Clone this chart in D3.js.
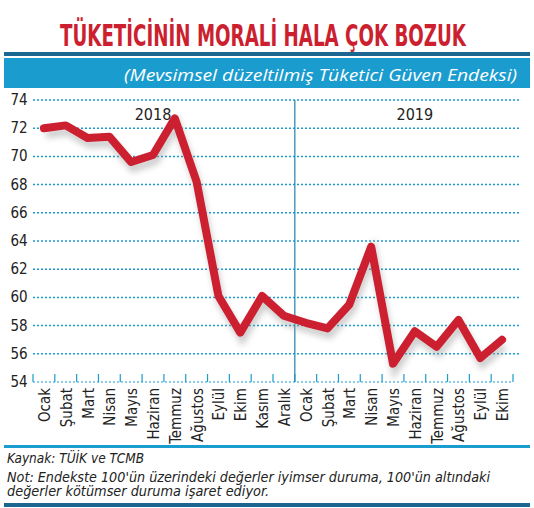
<!DOCTYPE html>
<meta charset="utf-8">
<style>
body { margin: 0; background: white; }
text { font-family: "Liberation Sans Narrow", "DejaVu Sans Condensed", sans-serif; }
</style>
<body>
<script src="https://cdn.jsdelivr.net/npm/d3@7"></script>
<script>
var months = ['Ocak', 'Şubat', 'Mart', 'Nisan', 'Mayıs', 'Haziran', 'Temmuz', 'Ağustos', 'Eylül', 'Ekim', 'Kasım', 'Aralık',
    'Ocak', 'Şubat', 'Mart', 'Nisan', 'Mayıs', 'Haziran', 'Temmuz', 'Ağustos', 'Eylül', 'Ekim']
var values = [72.0, 72.2, 71.3, 71.4, 69.6, 70.1, 72.7, 68.2, 60.1, 57.5, 60.1, 58.7,
    58.2, 57.8, 59.5, 63.6, 55.3, 57.6, 56.5, 58.4, 55.7, 57.0]
var yTicks = [54, 56, 58, 60, 62, 64, 66, 68, 70, 72, 74]
var years = [{ label: '2018', at: 5 }, { label: '2019', at: 17 }]

var width = 534, height = 508
var teal = '#1a9ccf', dark = '#1b6791', red = '#cc1f2f'

var svg = d3.select('body').append('svg').attr('width', width).attr('height', height)

var idx = months.map(function (d, i) { return i })
var x = d3.scaleBand().domain(idx).range([33, 513])
var y = d3.scaleLinear().domain([54, 74]).range([382, 100])

// header
svg.append('text').attr('x', 60).attr('y', 46)
    .attr('fill', red).attr('font-size', 30).attr('font-weight', 'bold')
    .attr('textLength', 406).attr('lengthAdjust', 'spacingAndGlyphs')
    .text('TÜKETİCİNİN MORALİ HALA ÇOK BOZUK')
svg.append('rect').attr('x', 4).attr('y', 52).attr('width', 526).attr('height', 4).attr('fill', dark)
svg.append('rect').attr('x', 4).attr('y', 58).attr('width', 526).attr('height', 30).attr('fill', teal)
svg.append('text').attr('x', 124).attr('y', 81)
    .attr('fill', 'white').attr('font-size', 17).attr('font-style', 'italic')
    .attr('textLength', 393).attr('lengthAdjust', 'spacingAndGlyphs')
    .style('font-family', '"Open Sans", sans-serif')
    .text('(Mevsimsel düzeltilmiş Tüketici Güven Endeksi)')

// grid
svg.selectAll('.grid').data(yTicks.slice(1)).enter().append('line')
    .attr('x1', 33).attr('x2', 520)
    .attr('y1', function (d) { return y(d) }).attr('y2', function (d) { return y(d) })
    .attr('stroke', teal).attr('stroke-width', 1.5).attr('stroke-dasharray', '2,2')
svg.append('line').attr('x1', 33).attr('x2', 513).attr('y1', 382).attr('y2', 382)
    .attr('stroke', teal).attr('stroke-width', 1).attr('stroke-dasharray', '2,2')
svg.selectAll('.tick').data(d3.range(months.length + 1)).enter().append('line')
    .attr('x1', function (d) { return 33 + d * x.step() }).attr('x2', function (d) { return 33 + d * x.step() })
    .attr('y1', 374).attr('y2', 382).attr('stroke', teal).attr('stroke-width', 1.2)
svg.append('line').attr('x1', x(12)).attr('x2', x(12)).attr('y1', 100).attr('y2', 382)
    .attr('stroke', '#2a8fb3').attr('stroke-width', 1.3)

// y labels
svg.selectAll('.yl').data(yTicks).enter().append('text')
    .attr('x', 19).attr('y', function (d) { return y(d) + 5 }).attr('text-anchor', 'middle')
    .attr('font-size', 15).attr('fill', '#222').text(function (d) { return d })

// x labels
svg.selectAll('.xl').data(months).enter().append('text')
    .attr('transform', function (d, i) { return 'translate(' + (x(i) + x.bandwidth() / 2 + 6) + ',388) rotate(-90) scale(1,1.1)' })
    .attr('text-anchor', 'end').attr('font-size', 15).attr('fill', '#222').text(function (d) { return d })

svg.selectAll('.yr').data(years).enter().append('text')
    .attr('x', function (d) { return x(d.at) + x.bandwidth() / 2 }).attr('y', 120)
    .attr('text-anchor', 'middle').attr('font-size', 16).attr('fill', '#222').text(function (d) { return d.label })

// line
var line = d3.line().x(function (d, i) { return x(i) + x.bandwidth() / 2 }).y(function (d) { return y(d) })
var defs = svg.append('defs')
defs.append('filter').attr('id', 'sh').append('feGaussianBlur').attr('stdDeviation', 3)
svg.append('path').datum(values).attr('d', line).attr('fill', 'none').attr('stroke', '#999')
    .attr('stroke-width', 8).attr('opacity', 0.5).attr('filter', 'url(#sh)').attr('transform', 'translate(2,6)')
svg.append('path').datum(values).attr('d', line).attr('fill', 'none').attr('stroke', red)
    .attr('stroke-width', 8).attr('stroke-linejoin', 'round').attr('stroke-linecap', 'round')

// footer
svg.append('rect').attr('x', 4).attr('y', 445).attr('width', 526).attr('height', 3).attr('fill', teal)
var foot = svg.append('g').attr('fill', '#222').attr('font-size', 13.5).attr('font-style', 'italic')
    .style('font-family', '"Open Sans", sans-serif')
foot.append('text').attr('x', 7).attr('y', 463).text('Kaynak: TÜİK ve TCMB')
foot.append('text').attr('x', 7).attr('y', 482).attr('textLength', 483).attr('lengthAdjust', 'spacingAndGlyphs')
    .text("Not: Endekste 100'ün üzerindeki değerler iyimser duruma, 100'ün altındaki")
foot.append('text').attr('x', 7).attr('y', 496).attr('textLength', 262).attr('lengthAdjust', 'spacingAndGlyphs')
    .text('değerler kötümser duruma işaret ediyor.')
svg.append('rect').attr('x', 4).attr('y', 503).attr('width', 526).attr('height', 4).attr('fill', dark)
</script>
</body>
